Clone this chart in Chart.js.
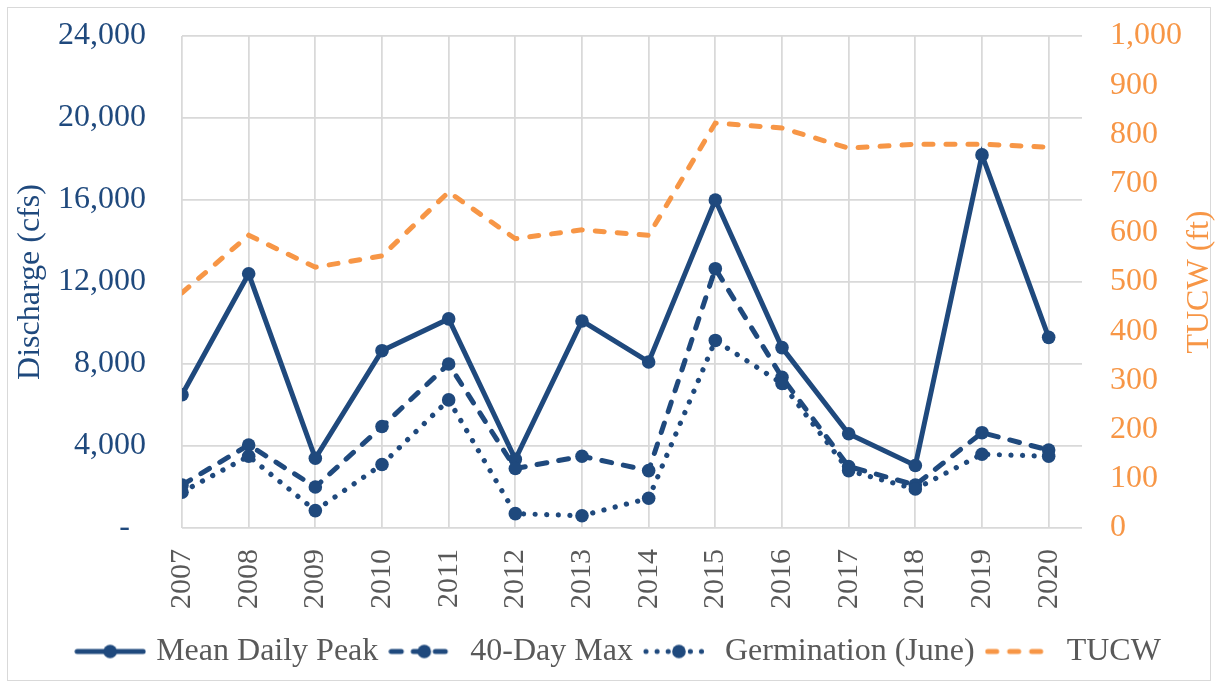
<!DOCTYPE html>
<html>
<head>
<meta charset="utf-8">
<title>Discharge and TUCW</title>
<script src="https://cdn.jsdelivr.net/npm/chart.js@4.4.1/dist/chart.umd.min.js"></script>
<style>
  html, body { margin: 0; padding: 0; background: #fff; }
  #wrap { position: relative; width: 1217px; height: 687px; }
  #frame { position: absolute; left: 7px; top: 7px; width: 1202px; height: 672px; border: 1px solid #d9d9d9; }
  #chart { position: absolute; left: 0; top: 0; }
</style>
</head>
<body>
<div id="wrap">
  <div id="frame"></div>
  <canvas id="chart" width="1217" height="687"></canvas>
</div>
<script>
// Values
const years = [2007, 2008, 2009, 2010, 2011, 2012, 2013, 2014, 2015, 2016, 2017, 2018, 2019, 2020];
const meanDailyPeak = [6500, 12400, 3400, 8650, 10200, 3350, 10100, 8100, 16000, 8800, 4600, 3050, 18200, 9300];
const fortyDayMax = [2100, 4050, 2000, 4950, 8000, 2900, 3500, 2800, 12650, 7350, 3000, 2100, 4650, 3800];
const germinationJune = [1750, 3500, 850, 3100, 6250, 700, 600, 1450, 9150, 7050, 2800, 1900, 3600, 3500];
const tucw = [478, 595, 530, 553, 683, 588, 606, 595, 823, 813, 772, 780, 780, 774];

// Axis tick values
const dischargeTicks = [0, 4000, 8000, 12000, 16000, 20000, 24000];
const tucwTicks = [0, 100, 200, 300, 400, 500, 600, 700, 800, 900, 1000];

const NAVY = '#1F497D';
const ORANGE = '#F79646';
const GRAY = '#595959';
const GRID = '#d9d9d9';
const SERIF = "'Times New Roman', 'Liberation Serif', serif";
const FONT_SIZE = 32;

function toPoints(values) {
    return values.map((v, i) => ({ x: years[i], y: v }));
}

// small line+marker picture used as legend symbol
function legendSwatch(color, dash, cap, marker) {
    const c = document.createElement('canvas');
    c.width = 72;
    c.height = 16;
    const g = c.getContext('2d');
    g.strokeStyle = color;
    g.lineWidth = 5;
    g.lineCap = cap;
    g.setLineDash(dash);
    g.beginPath();
    g.moveTo(3, 8);
    g.lineTo(69, 8);
    g.stroke();
    if (marker) {
        g.fillStyle = color;
        g.beginPath();
        g.arc(36, 8, 6.8, 0, Math.PI * 2);
        g.fill();
    }
    return c;
}

const swatches = [
    legendSwatch(NAVY, [], 'round', true),
    legendSwatch(NAVY, [10, 12], 'round', true),
    legendSwatch(NAVY, [0.1, 11], 'round', true),
    legendSwatch(ORANGE, [9, 13], 'round', false)
];

// right axis title reads bottom-to-top, so draw it here
const rightTitle = {
    id: 'rightTitle',
    afterLayout(chart) {
        // legend row sits a little right of centre in the original
        chart.legend.left += 12;
        chart.legend.right += 12;
    },
    afterDraw(chart) {
        const s = chart.scales.y1;
        const ctx = chart.ctx;
        ctx.save();
        ctx.translate(s.right - 17, (s.top + s.bottom) / 2);
        ctx.rotate(-Math.PI / 2);
        ctx.fillStyle = ORANGE;
        ctx.font = `${FONT_SIZE}px ${SERIF}`;
        ctx.textAlign = 'center';
        ctx.textBaseline = 'middle';
        ctx.fillText('TUCW (ft)', 0, 0);
        ctx.restore();
    }
};

const navyPoint = {
    pointRadius: 6.8,
    pointHoverRadius: 6.8,
    pointBackgroundColor: NAVY,
    pointBorderWidth: 0,
    borderColor: NAVY,
    borderWidth: 5,
    tension: 0,
    yAxisID: 'y'
};

// invisible tick marks keep the labels away from the plot
// without adding tick padding to the chart area's top
const hiddenTicks = len => ({ color: GRID, lineWidth: 1.75, drawTicks: true, tickLength: len, tickColor: 'rgba(0,0,0,0)' });

new Chart(document.getElementById('chart'), {
    type: 'line',
    data: {
        datasets: [
            { ...navyPoint, label: 'Mean Daily Peak', data: toPoints(meanDailyPeak), order: 3 },
            { ...navyPoint, label: '40-Day Max', data: toPoints(fortyDayMax), borderDash: [10, 12], borderCapStyle: 'round', order: 2 },
            { ...navyPoint, label: 'Germination (June)', data: toPoints(germinationJune), borderWidth: 5.2, borderDash: [0.1, 11.5], borderCapStyle: 'round', order: 1 },
            {
                label: 'TUCW',
                data: toPoints(tucw),
                borderColor: ORANGE,
                borderWidth: 5,
                borderDash: [9, 13],
                borderCapStyle: 'round',
                pointRadius: 0,
                tension: 0,
                yAxisID: 'y1',
                order: 0
            }
        ]
    },
    options: {
        responsive: false,
        animation: false,
        events: [],
        layout: { padding: { top: 36, bottom: 9.5, left: 0, right: 0 } },
        plugins: {
            tooltip: { enabled: false },
            legend: {
                position: 'bottom',
                labels: {
                    usePointStyle: true,
                    pointStyleWidth: 60,
                    padding: 16,
                    color: GRAY,
                    font: { family: SERIF, size: FONT_SIZE },
                    generateLabels: chart => chart.data.datasets.map((ds, i) => ({
                        text: ds.label,
                        pointStyle: swatches[i],
                        fillStyle: ds.borderColor,
                        strokeStyle: ds.borderColor,
                        lineWidth: 0,
                        fontColor: GRAY,
                        hidden: false,
                        datasetIndex: i
                    }))
                }
            }
        },
        scales: {
            x: {
                type: 'linear',
                min: 2007,
                max: 2020.5,
                afterBuildTicks: s => { s.ticks = years.map(v => ({ value: v })); },
                afterFit: s => { s.height = 91.5; },
                grid: hiddenTicks(21),
                border: { display: false },
                ticks: {
                    autoSkip: false,
                    minRotation: 90,
                    maxRotation: 90,
                    padding: 0,
                    color: GRAY,
                    font: { family: SERIF, size: 30 },
                    callback: v => String(v)
                }
            },
            y: {
                position: 'left',
                min: 0,
                max: 24000,
                afterBuildTicks: s => { s.ticks = dischargeTicks.map(v => ({ value: v })); },
                afterFit: s => { s.width = 182; },
                grid: hiddenTicks(36),
                border: { display: false },
                ticks: {
                    padding: 0,
                    color: NAVY,
                    font: { family: SERIF, size: FONT_SIZE },
                    callback: v => v === 0 ? '-  ' : v.toLocaleString('en-US')
                },
                title: {
                    display: true,
                    text: 'Discharge (cfs)',
                    color: NAVY,
                    font: { family: SERIF, size: FONT_SIZE, lineHeight: 1 },
                    padding: { top: 15, bottom: 0 }
                }
            },
            y1: {
                position: 'right',
                min: 0,
                max: 1000,
                afterBuildTicks: s => { s.ticks = tucwTicks.map(v => ({ value: v })); },
                afterFit: s => { s.width = 135; },
                grid: { display: true, drawOnChartArea: false, drawTicks: true, tickLength: 28, tickColor: 'rgba(0,0,0,0)' },
                border: { display: false },
                ticks: {
                    padding: 0,
                    color: ORANGE,
                    font: { family: SERIF, size: FONT_SIZE },
                    callback: v => v.toLocaleString('en-US')
                }
            }
        }
    },
    plugins: [rightTitle]
});
</script>
</body>
</html>
